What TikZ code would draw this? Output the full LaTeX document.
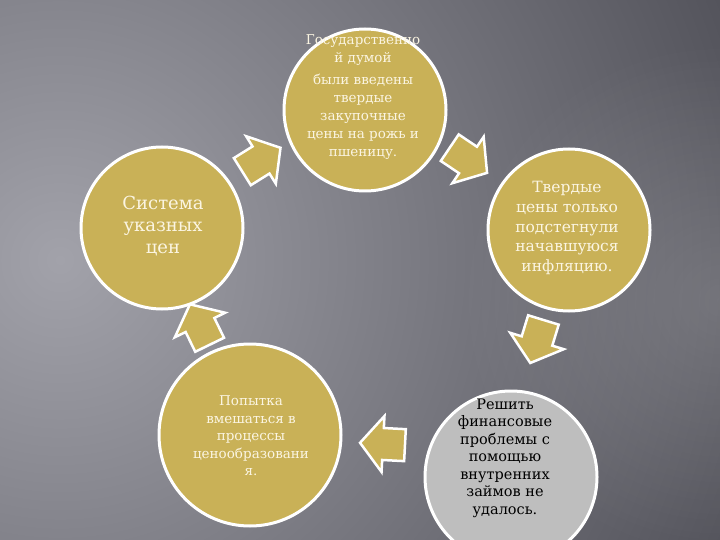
\documentclass[tikz,border=0pt]{standalone}
\usepackage{fontspec}
\setmainfont{DejaVu Serif}
\usetikzlibrary{fadings}
\definecolor{gold}{HTML}{C9B157}
\definecolor{bgdark}{HTML}{4A4A52}
\definecolor{bglight}{HTML}{A2A2AA}
\definecolor{graycirc}{HTML}{BEBEBE}
\definecolor{cream}{HTML}{FBF5E2}
\tikzfading[name=softglow, inner color=transparent!0, outer color=transparent!100]
\tikzset{
  bubble/.style={circle, draw=white, line width=3pt, fill=gold, inner sep=0pt},
  blockarr/.style={draw=white, line width=2.5pt, fill=gold, line join=miter},
  barrow/.pic={\draw[blockarr] (23,0) -- (0,28) -- (0,16) -- (-22,16) -- (-22,-16) -- (0,-16) -- (0,-28) -- cycle;},
  lbl/.style={align=center, text=cream, inner sep=0pt}
}
\begin{document}
\begin{tikzpicture}[x=1pt,y=-1pt]
\fill[bgdark] (0,0) rectangle (720,540);
\begin{scope}
\clip (0,0) rectangle (720,540);
\shade[inner color=bglight, outer color=bgdark] (60,260) circle (800pt);
\fill[white, opacity=0.16, path fading=softglow] (720,300) circle (260pt);
\end{scope}
\useasboundingbox (0,0) rectangle (720,540);
% arrows (drawn beneath the circles)
\pic[rotate=32]  at (261,160) {barrow};
\pic[rotate=-34] at (468,160) {barrow};
\pic[rotate=-107] at (537,341) {barrow};
\pic[rotate=177] at (383,444) {barrow};
\pic[rotate=116] at (200,325) {barrow};
% circles
\node[bubble, minimum size=162pt] (L) at (162,228) {};
\node[bubble, minimum size=162pt] (T) at (365,110) {};
\node[bubble, minimum size=162pt] (R) at (569,230) {};
\node[bubble, fill=graycirc, minimum size=172pt] (G) at (511,477) {};
\node[bubble, minimum size=182pt] (P) at (250,435) {};
% texts
\node[lbl, font=\fontsize{13.5}{18}\selectfont] (tT) at (363,97)
  {Государственно\\й думой\\[4pt]были введены\\твердые\\закупочные\\цены на рожь и\\пшеницу.};
\node[lbl, font=\fontsize{15.5}{19.7}\selectfont] (tR) at (567,228)
  {Твердые\\цены только\\подстегнули\\начавшуюся\\инфляцию.};
\node[lbl, font=\fontsize{18}{22}\selectfont] (tL) at (163,226)
  {Система\\указных\\цен};
\node[lbl, font=\fontsize{13.5}{17.5}\selectfont] (tP) at (251,436)
  {Попытка\\вмешаться в\\процессы\\ценообразовани\\я.};
\node[lbl, text=black, font=\fontsize{14.5}{17.5}\selectfont] (tG) at (505,458)
  {Решить\\финансовые\\проблемы с\\помощью\\внутренних\\займов не\\удалось.};
\end{tikzpicture}
\end{document}
